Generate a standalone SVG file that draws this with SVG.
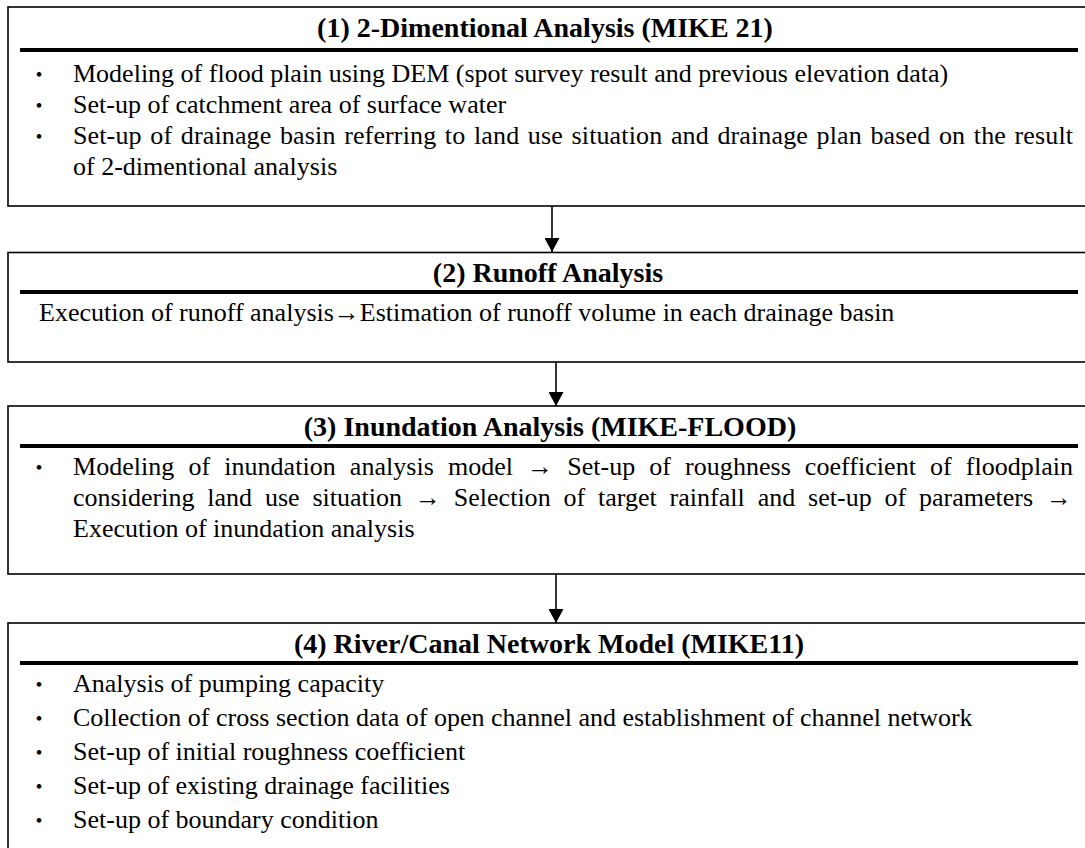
<svg xmlns="http://www.w3.org/2000/svg" width="1085" height="848" viewBox="0 0 1085 848">
<defs>
<marker id="ah" markerUnits="userSpaceOnUse" markerWidth="14" markerHeight="15" refX="14" refY="7.5" orient="auto">
<path d="M0,0 L14,7.5 L0,15 z" fill="#000"/>
</marker>
<style>
.box{fill:#fff;stroke:#000;stroke-width:1.6}
.ul{stroke:#000;stroke-width:4}
.t{font-family:"Liberation Serif","Times New Roman",serif;font-size:28px;font-weight:bold;fill:#000;text-anchor:middle}
.b{font-family:"Liberation Serif","Times New Roman",serif;font-size:26px;fill:#000}
.dot{font-family:"Noto Sans CJK JP",sans-serif;font-size:22px;fill:#000;text-anchor:middle}
.c{stroke:#000;stroke-width:1.6;fill:none}
</style>
</defs>
<rect width="1085" height="848" fill="#fff"/>
<g id="node1">
<rect class="box" x="8" y="7" width="1100" height="199"/>
<text class="t" x="545" y="37">(1) 2-Dimentional Analysis (MIKE 21)</text>
<line class="ul" x1="20" y1="50" x2="1078" y2="50"/>
<text class="dot" x="39" y="82">・</text>
<text class="b" x="73" y="82">Modeling of flood plain using DEM (spot survey result and previous elevation data)</text>
<text class="dot" x="39" y="113">・</text>
<text class="b" x="73" y="113">Set-up of catchment area of surface water</text>
<text class="dot" x="39" y="144">・</text>
<text class="b" x="73" y="144" word-spacing="2" textLength="1000" lengthAdjust="spacing">Set-up of drainage basin referring to land use situation and drainage plan based on the result</text>
<text class="b" x="73" y="175">of 2-dimentional analysis</text>
</g>
<g id="node2">
<rect class="box" x="8" y="252.5" width="1100" height="109.5"/>
<text class="t" x="548" y="282">(2) Runoff Analysis</text>
<line class="ul" x1="20" y1="292" x2="1078" y2="292"/>
<text class="b" x="39" y="321">Execution of runoff analysis→Estimation of runoff volume in each drainage basin</text>
</g>
<g id="node3">
<rect class="box" x="8" y="406" width="1100" height="168"/>
<text class="t" x="550" y="436">(3) Inundation Analysis (MIKE-FLOOD)</text>
<line class="ul" x1="20" y1="446" x2="1078" y2="446"/>
<text class="dot" x="39" y="475">・</text>
<text class="b" x="73" y="475" word-spacing="7.5" textLength="1000" lengthAdjust="spacing">Modeling of inundation analysis model → Set-up of roughness coefficient of floodplain</text>
<text class="b" x="73" y="506" word-spacing="6.3" textLength="999" lengthAdjust="spacing">considering land use situation → Selection of target rainfall and set-up of parameters →</text>
<text class="b" x="73" y="537">Execution of inundation analysis</text>
</g>
<g id="node4">
<rect class="box" x="8" y="623" width="1100" height="300"/>
<text class="t" x="549" y="653">(4) River/Canal Network Model (MIKE11)</text>
<line class="ul" x1="20" y1="663" x2="1078" y2="663"/>
<text class="dot" x="39" y="692">・</text>
<text class="b" x="73" y="692">Analysis of pumping capacity</text>
<text class="dot" x="39" y="726">・</text>
<text class="b" x="73" y="726">Collection of cross section data of open channel and establishment of channel network</text>
<text class="dot" x="39" y="760">・</text>
<text class="b" x="73" y="760">Set-up of initial roughness coefficient</text>
<text class="dot" x="39" y="794">・</text>
<text class="b" x="73" y="794">Set-up of existing drainage facilities</text>
<text class="dot" x="39" y="828">・</text>
<text class="b" x="73" y="828">Set-up of boundary condition</text>
</g>
<g id="connectors">
<line class="c" x1="552" y1="206" x2="552" y2="252" marker-end="url(#ah)"/>
<line class="c" x1="556" y1="362" x2="556" y2="406" marker-end="url(#ah)"/>
<line class="c" x1="556" y1="574" x2="556" y2="623" marker-end="url(#ah)"/>
</g>
</svg>
